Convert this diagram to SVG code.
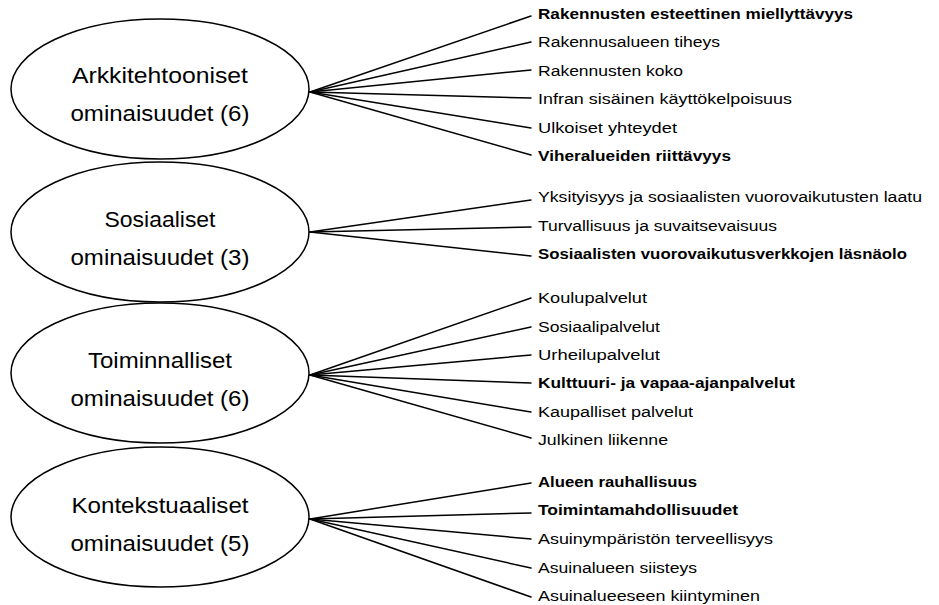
<svg xmlns="http://www.w3.org/2000/svg" width="939" height="605" viewBox="0 0 939 605">
<style>
.bg{fill:#ffffff}
.node ellipse{fill:#ffffff;stroke:#000000;stroke-width:1.5}
.ntext{font-family:"Liberation Sans","Noto Sans",sans-serif;font-size:22px;fill:#000000;text-anchor:middle}
.conn line{stroke:#000000;stroke-width:1.5;stroke-linecap:round}
.lbl{font-family:"Liberation Sans","Noto Sans",sans-serif;font-size:15.5px;fill:#000000}
.b{font-weight:bold}
</style>
<rect class="bg" x="0" y="0" width="939" height="605"/>
<g id="connectors" class="conn">
<line x1="310" y1="92" x2="531" y2="16"/>
<line x1="310" y1="92" x2="531" y2="42"/>
<line x1="310" y1="92" x2="531" y2="70"/>
<line x1="310" y1="92" x2="531" y2="98"/>
<line x1="310" y1="92" x2="531" y2="128"/>
<line x1="310" y1="92" x2="531" y2="155"/>
<line x1="310" y1="232" x2="531" y2="200"/>
<line x1="310" y1="232" x2="531" y2="227"/>
<line x1="310" y1="232" x2="531" y2="256"/>
<line x1="310" y1="375" x2="531" y2="298"/>
<line x1="310" y1="375" x2="531" y2="327"/>
<line x1="310" y1="375" x2="531" y2="355"/>
<line x1="310" y1="375" x2="531" y2="383"/>
<line x1="310" y1="375" x2="531" y2="412"/>
<line x1="310" y1="375" x2="531" y2="438"/>
<line x1="310" y1="519" x2="531" y2="483"/>
<line x1="310" y1="519" x2="531" y2="513"/>
<line x1="310" y1="519" x2="531" y2="539"/>
<line x1="310" y1="519" x2="531" y2="568"/>
<line x1="310" y1="519" x2="531" y2="597"/>
</g>
<g id="node-arkkitehtooniset" class="node">
<ellipse cx="160" cy="89" rx="149" ry="70"/>
<text class="ntext" x="160" y="83" textLength="176" lengthAdjust="spacingAndGlyphs">Arkkitehtooniset</text>
<text class="ntext" x="160" y="121" textLength="179" lengthAdjust="spacingAndGlyphs">ominaisuudet (6)</text>
</g>
<g id="node-sosiaaliset" class="node">
<ellipse cx="160" cy="232" rx="149" ry="70"/>
<text class="ntext" x="160" y="227" textLength="111" lengthAdjust="spacingAndGlyphs">Sosiaaliset</text>
<text class="ntext" x="160" y="265" textLength="179" lengthAdjust="spacingAndGlyphs">ominaisuudet (3)</text>
</g>
<g id="node-toiminnalliset" class="node">
<ellipse cx="160" cy="373" rx="149" ry="70"/>
<text class="ntext" x="160" y="368" textLength="144" lengthAdjust="spacingAndGlyphs">Toiminnalliset</text>
<text class="ntext" x="160" y="406" textLength="179" lengthAdjust="spacingAndGlyphs">ominaisuudet (6)</text>
</g>
<g id="node-kontekstuaaliset" class="node">
<ellipse cx="160" cy="517" rx="149" ry="70"/>
<text class="ntext" x="160" y="513" textLength="177" lengthAdjust="spacingAndGlyphs">Kontekstuaaliset</text>
<text class="ntext" x="160" y="551" textLength="179" lengthAdjust="spacingAndGlyphs">ominaisuudet (5)</text>
</g>
<g id="labels-arkkitehtooniset">
<text class="lbl b" x="538" y="19" textLength="315" lengthAdjust="spacingAndGlyphs">Rakennusten esteettinen miellyttävyys</text>
<text class="lbl" x="538" y="47" textLength="182" lengthAdjust="spacingAndGlyphs">Rakennusalueen tiheys</text>
<text class="lbl" x="538" y="76" textLength="145" lengthAdjust="spacingAndGlyphs">Rakennusten koko</text>
<text class="lbl" x="538" y="104" textLength="254" lengthAdjust="spacingAndGlyphs">Infran sisäinen käyttökelpoisuus</text>
<text class="lbl" x="538" y="133" textLength="139" lengthAdjust="spacingAndGlyphs">Ulkoiset yhteydet</text>
<text class="lbl b" x="538" y="161" textLength="193" lengthAdjust="spacingAndGlyphs">Viheralueiden riittävyys</text>
</g>
<g id="labels-sosiaaliset">
<text class="lbl" x="538" y="202" textLength="384" lengthAdjust="spacingAndGlyphs">Yksityisyys ja sosiaalisten vuorovaikutusten laatu</text>
<text class="lbl" x="538" y="231" textLength="239" lengthAdjust="spacingAndGlyphs">Turvallisuus ja suvaitsevaisuus</text>
<text class="lbl b" x="538" y="259" textLength="369" lengthAdjust="spacingAndGlyphs">Sosiaalisten vuorovaikutusverkkojen läsnäolo</text>
</g>
<g id="labels-toiminnalliset">
<text class="lbl" x="538" y="303" textLength="109" lengthAdjust="spacingAndGlyphs">Koulupalvelut</text>
<text class="lbl" x="538" y="332" textLength="122" lengthAdjust="spacingAndGlyphs">Sosiaalipalvelut</text>
<text class="lbl" x="538" y="360" textLength="122" lengthAdjust="spacingAndGlyphs">Urheilupalvelut</text>
<text class="lbl b" x="538" y="388" textLength="257" lengthAdjust="spacingAndGlyphs">Kulttuuri- ja vapaa-ajanpalvelut</text>
<text class="lbl" x="538" y="417" textLength="155" lengthAdjust="spacingAndGlyphs">Kaupalliset palvelut</text>
<text class="lbl" x="538" y="445" textLength="130" lengthAdjust="spacingAndGlyphs">Julkinen liikenne</text>
</g>
<g id="labels-kontekstuaaliset">
<text class="lbl b" x="538" y="487" textLength="159" lengthAdjust="spacingAndGlyphs">Alueen rauhallisuus</text>
<text class="lbl b" x="538" y="515" textLength="200" lengthAdjust="spacingAndGlyphs">Toimintamahdollisuudet</text>
<text class="lbl" x="538" y="544" textLength="235" lengthAdjust="spacingAndGlyphs">Asuinympäristön terveellisyys</text>
<text class="lbl" x="538" y="573" textLength="159" lengthAdjust="spacingAndGlyphs">Asuinalueen siisteys</text>
<text class="lbl" x="538" y="601" textLength="222" lengthAdjust="spacingAndGlyphs">Asuinalueeseen kiintyminen</text>
</g>
</svg>
